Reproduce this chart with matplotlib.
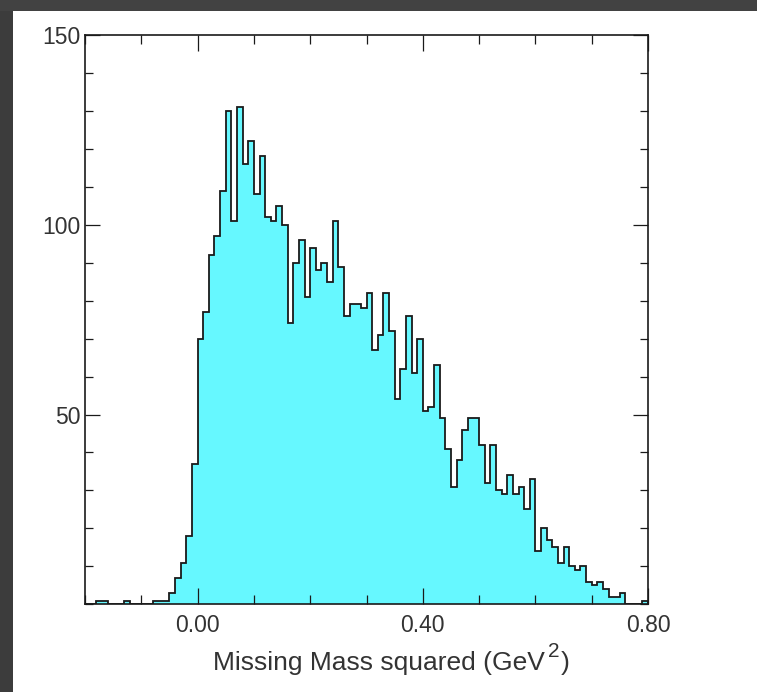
import numpy as np
import matplotlib
matplotlib.use("Agg")
import matplotlib.pyplot as plt
from matplotlib.patches import Rectangle
from matplotlib.ticker import MultipleLocator

# histogram of missing mass squared, 100 bins of 0.01 GeV^2 from -0.20
bin_lo = -0.20
bin_width = 0.01
counts = [
    0, 0, 1, 1, 0, 0, 0, 1, 0, 0,
    0, 0, 1, 1, 1, 3, 7, 11, 18, 37,
    70, 77, 92, 97, 109, 130, 101, 131, 116, 122,
    108, 118, 102, 101, 105, 100, 74, 90, 96, 81,
    94, 88, 90, 85, 101, 89, 76, 79, 79, 78,
    82, 67, 71, 82, 72, 54, 62, 76, 61, 70,
    51, 52, 63, 49, 41, 31, 38, 46, 49, 49,
    42, 32, 42, 30, 29, 34, 29, 31, 25, 33,
    14, 20, 17, 15, 11, 15, 10, 9, 10, 6,
    5, 6, 4, 2, 2, 3, 0, 0, 0, 1,
]
x_ticks = [0.0, 0.4, 0.8]
x_labels = ["0.00", "0.40", "0.80"]
y_ticks = [50, 100, 150]
y_labels = ["50", "100", "150"]

plt.rcParams["font.family"] = ["Liberation Sans", "DejaVu Sans"]
txt_col = "#333333"

W, H = 757, 692
fig = plt.figure(figsize=(W / 100, H / 100), dpi=100)
fig.patch.set_facecolor("white")

# dark frame at top and left of the screenshot
fig.patches.append(Rectangle((0, 0), 13 / W, 1, transform=fig.transFigure,
                             facecolor="#3c3c3c", edgecolor="none", zorder=0))
fig.patches.append(Rectangle((0, 1 - 11 / H), 1, 11 / H, transform=fig.transFigure,
                             facecolor="#424242", edgecolor="none", zorder=0))

ax = fig.add_axes([85 / W, (H - 604.3) / H, 563 / W, 569.3 / H])

edges = bin_lo + bin_width * np.arange(len(counts) + 1)
ax.stairs(counts, edges, fill=True, facecolor="#66f8ff", edgecolor="none")
ax.stairs(counts, edges, color="#1a1a1a", linewidth=1.3)

ax.set_xlim(-0.2, 0.8)
ax.set_ylim(0, 150)

ax.set_xticks(x_ticks)
ax.set_xticklabels(x_labels)
ax.xaxis.set_minor_locator(MultipleLocator(0.1))
ax.set_yticks(y_ticks)
ax.set_yticklabels(y_labels)
ax.yaxis.set_minor_locator(MultipleLocator(10))

ax.tick_params(which="both", direction="in", top=True, right=True,
               color="#1a1a1a", width=0.9, labelcolor=txt_col, labelsize=16.5)
ax.tick_params(axis="x", which="major", length=11.5, pad=7)
ax.tick_params(axis="x", which="minor", length=6.5)
ax.tick_params(axis="y", which="major", length=10.8, pad=3)
ax.tick_params(axis="y", which="minor", length=5.5)

for sp in ax.spines.values():
    sp.set_linewidth(1.2)
    sp.set_color("#1a1a1a")

# x axis label, exponent placed by hand after measuring the text
base_y = H - 670
lab = fig.text(213 / W, base_y / H, "Missing Mass squared (GeV",
               fontsize=19, color=txt_col, ha="left", va="baseline")
fig.canvas.draw()
x_end = lab.get_window_extent().x1
sup = fig.text((x_end + 3) / W, (base_y + 13) / H, "2",
               fontsize=15, color=txt_col, ha="left", va="baseline")
fig.canvas.draw()
x_end = sup.get_window_extent().x1
fig.text((x_end + 1) / W, base_y / H, ")",
         fontsize=19, color=txt_col, ha="left", va="baseline")

fig.savefig("out.png", dpi=100)
